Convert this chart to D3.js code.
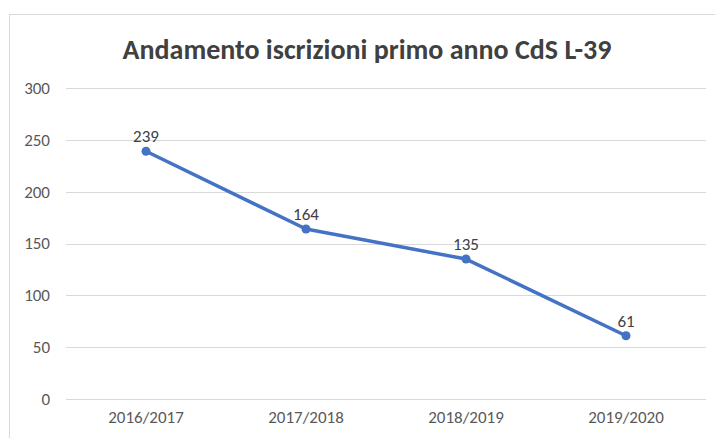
<!DOCTYPE html>
<html>
<head>
<meta charset="utf-8">
<script src="https://cdn.jsdelivr.net/npm/d3@7"></script>
<style>
  body { margin: 0; background: #fff; }
  text { font-family: Carlito, "Open Sans", "Liberation Sans", sans-serif; }
</style>
</head>
<body>
<div class="container"></div>
<script>
var years = ['2016/2017', '2017/2018', '2018/2019', '2019/2020'];
var iscrizioni = [239, 164, 135, 61];
var yTicks = [0, 50, 100, 150, 200, 250, 300];

var WIDTH = 715, HEIGHT = 438;
var FONT = 'Carlito, "Open Sans", "Liberation Sans", sans-serif';

var svg = d3.select('.container').append('svg')
	.attr('width', WIDTH)
	.attr('height', HEIGHT);

// chart frame
svg.append('rect')
	.attr('x', 9.5).attr('y', 14.5)
	.attr('width', 720).attr('height', 440)
	.attr('fill', '#fff')
	.attr('stroke', '#d9d9d9');

svg.append('text')
	.attr('x', 367).attr('y', 59)
	.attr('text-anchor', 'middle')
	.attr('font-size', 28)
	.attr('font-weight', 'bold')
	.attr('fill', '#404040')
	.text('Andamento iscrizioni primo anno CdS L-39');

var xScale = d3.scaleBand()
	.domain(years)
	.range([66, 706]);

var yScale = d3.scaleLinear()
	.domain([0, 300])
	.range([399, 88]);

// gridlines
svg.append('g').selectAll('line').data(yTicks)
	.enter().append('line')
	.attr('x1', 66).attr('x2', 706)
	.attr('y1', function(d) { return Math.round(yScale(d)) + 0.5; })
	.attr('y2', function(d) { return Math.round(yScale(d)) + 0.5; })
	.attr('stroke', '#d9d9d9')
	.attr('stroke-width', 1);

// y axis labels
var yAxis = d3.axisLeft(yScale).tickValues(yTicks).tickSize(0).tickPadding(0);
var yG = svg.append('g').attr('transform', 'translate(50,0)').call(yAxis);
yG.select('.domain').remove();
yG.selectAll('text').attr('font-size', 17).attr('fill', '#595959')
	.style('font-family', FONT);

// x axis labels
var xAxis = d3.axisBottom(xScale).tickSize(0).tickPadding(0);
var xG = svg.append('g').attr('transform', 'translate(0,411)').call(xAxis);
xG.select('.domain').remove();
xG.selectAll('text').attr('font-size', 17).attr('fill', '#595959')
	.style('font-family', FONT);

var cx = function(d, i) { return xScale(years[i]) + xScale.bandwidth() / 2; };

var line = d3.line()
	.x(function(d, i) { return cx(d, i); })
	.y(function(d) { return yScale(d); });

svg.append('path')
	.datum(iscrizioni)
	.attr('d', line)
	.attr('fill', 'none')
	.attr('stroke', '#4472c4')
	.attr('stroke-width', 3.5)
	.attr('stroke-linejoin', 'round');

svg.selectAll('circle.pt').data(iscrizioni)
	.enter().append('circle')
	.attr('class', 'pt')
	.attr('cx', cx)
	.attr('cy', function(d) { return yScale(d); })
	.attr('r', 4.5)
	.attr('fill', '#4472c4');

svg.selectAll('text.lbl').data(iscrizioni)
	.enter().append('text')
	.attr('class', 'lbl')
	.attr('x', cx)
	.attr('y', function(d) { return yScale(d) - 9; })
	.attr('text-anchor', 'middle')
	.attr('font-size', 17)
	.attr('fill', '#404040')
	.text(function(d) { return d; });
</script>
</body>
</html>
